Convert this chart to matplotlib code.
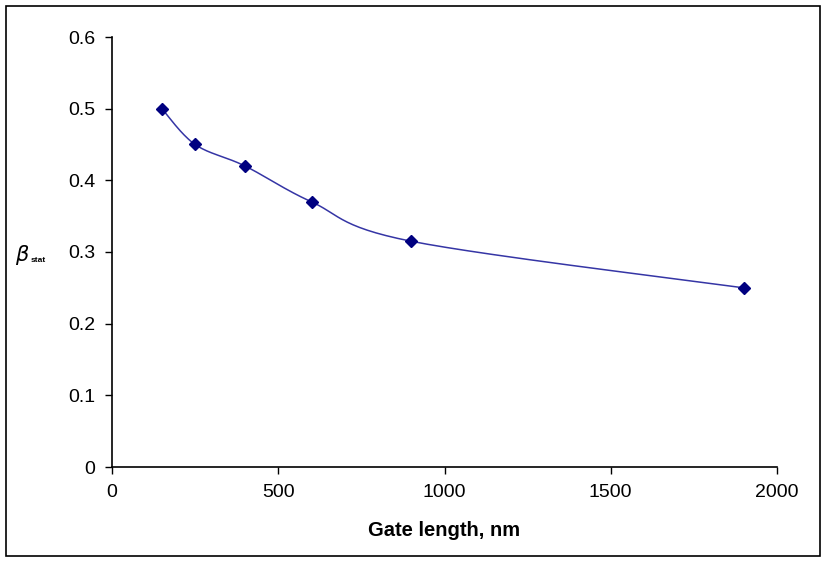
import numpy as np
import matplotlib.pyplot as plt
from matplotlib.patches import Rectangle

plt.rcParams['font.family'] = ['Liberation Sans', 'DejaVu Sans']

gate_length = [150, 250, 400, 600, 900, 1900]
beta_stat = [0.50, 0.45, 0.42, 0.37, 0.315, 0.25]


def smooth(xs, ys, n=30):
    # Catmull-Rom style smoothing like Excel's smoothed line
    p = np.column_stack([xs, ys]).astype(float)
    p = np.vstack([p[0], p, p[-1]])
    out = []
    for i in range(1, len(p) - 2):
        p0, p1, p2, p3 = p[i - 1], p[i], p[i + 1], p[i + 2]
        for t in np.linspace(0, 1, n, endpoint=False):
            t2, t3 = t * t, t * t * t
            pt = 0.5 * ((2 * p1) + (-p0 + p2) * t + (2 * p0 - 5 * p1 + 4 * p2 - p3) * t2
                        + (-p0 + 3 * p1 - 3 * p2 + p3) * t3)
            out.append(pt)
    out.append(p[-2])
    out = np.array(out)
    return out[:, 0], out[:, 1]


fig = plt.figure(figsize=(8.25, 5.62), dpi=100)
ax = fig.add_axes([112 / 825, 1 - 467 / 562, 665 / 825, 430 / 562])

sx, sy = smooth(gate_length, beta_stat)
ax.plot(sx, sy, color='#3535a5', lw=1.1)
ax.plot(gate_length, beta_stat, 'D', color='#000080', ms=6, mec='#000080')

ax.set_xlim(0, 2000)
ax.set_ylim(0, 0.6)
ax.set_xticks([0, 500, 1000, 1500, 2000])
ax.set_yticks([0, 0.1, 0.2, 0.3, 0.4, 0.5, 0.6])
ax.set_yticklabels(['0', '0.1', '0.2', '0.3', '0.4', '0.5', '0.6'])
ax.tick_params(direction='out', length=5, width=1, labelsize=14, pad=7, color='black')
ax.spines['top'].set_visible(False)
ax.spines['right'].set_visible(False)
ax.spines['left'].set_linewidth(1.2)
ax.spines['bottom'].set_linewidth(1.2)

ax.set_xlabel('Gate length, nm', fontsize=14.5, fontweight='bold', labelpad=15)
fig.text(22 / 825, 1 - 255 / 562, r'$\beta$', fontsize=15,
         ha='center', va='center')
fig.text(31 / 825, 1 - 261 / 562, 'stat', fontsize=6, fontweight='bold',
         ha='left', va='center')

fig.patches.append(Rectangle((6 / 825, 6 / 562), 814 / 825, 550 / 562,
                             transform=fig.transFigure, fill=False,
                             edgecolor='black', lw=1.2))

fig.savefig('out.png', dpi=100)
